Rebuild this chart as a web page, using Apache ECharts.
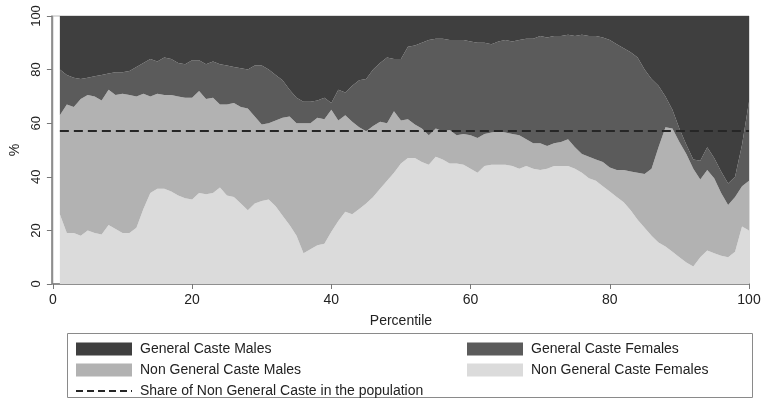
<!DOCTYPE html>
<html>
<head>
<meta charset="utf-8">
<script src="https://cdn.jsdelivr.net/npm/echarts@6/dist/echarts.min.js"></script>
<style>
  html, body { margin: 0; padding: 0; background: #fff; }
  #chart { width: 764px; height: 404px; }
</style>
</head>
<body>
<div id="chart"></div>
<script>
// Composition of each percentile group (shares in %, percentiles 1..100)
const percentiles = Array.from({ length: 100 }, (_, i) => i + 1);

const ngcFemales = [
  26, 19, 19, 18, 20, 19, 18.5, 22, 20.5, 19,
  19, 21, 28, 34, 35.5, 35.5, 34.5, 33, 32, 31.5,
  34, 33.5, 34, 36, 33, 32.5, 30, 27.5, 30, 31,
  31.5, 29, 25.5, 22, 18, 11.5, 13, 14.5, 15, 19.5,
  23.5, 27, 26, 28, 30, 32.5, 35.5, 38.5, 41.5, 45,
  47, 47, 45.5, 44.5, 47.5, 46.5, 45, 45, 44.5, 43,
  41.5, 44, 44.5, 44.5, 44.5, 44, 43, 44, 43, 42.5,
  43, 44, 44, 44, 43, 41.5, 39.5, 38.5, 36.5, 34.5,
  32.5, 30.5, 27.5, 24, 21, 18, 15.5, 14, 12, 10,
  8, 6.5, 10, 12.5, 11.5, 10.5, 10, 12, 21.5, 20
];

const ngcMales = [
  37, 48, 47, 51, 50.5, 51, 50, 50.5, 50, 52,
  51.5, 49, 43, 36, 35.5, 35, 36, 37, 37.5, 38,
  38, 35.5, 35.5, 31, 34, 35, 36, 38, 32.5, 28.5,
  28.5, 32, 36.5, 40.5, 42, 48.5, 47, 47.5, 46.5, 45.5,
  37.5, 36, 34.5, 30.5, 27, 26.5, 25, 21.5, 23, 16,
  14.5, 12.5, 12.5, 11, 10.5, 10.5, 12.5, 10.5, 11.5, 12.5,
  13, 12, 12, 12.5, 12, 12, 12.5, 10, 9.5, 10,
  8.5, 8.5, 9, 10, 8, 7, 8, 8, 9, 9,
  10, 12, 14.5, 17.5, 20, 25, 35.5, 44.5, 46, 43,
  40.5, 36.5, 29, 30, 28, 23.5, 19.5, 20.5, 15, 18.5
];

const gcFemales = [
  17, 11, 11, 7.5, 6.5, 7.5, 9.5, 6, 8.5, 8,
  9, 11, 11.5, 14, 12, 14, 13.5, 12.5, 12.5, 14,
  11.5, 13, 13.5, 15, 14.5, 13.5, 14.5, 14.5, 19, 22,
  20, 17, 14, 10, 9.5, 8, 8, 6.5, 8, 2.5,
  11.5, 8.5, 13.5, 17.5, 19.5, 21, 22, 24.5, 19.5, 23,
  27, 29.5, 32, 35.5, 33.5, 34.5, 33.5, 35.5, 35, 35,
  35.5, 34, 33, 33.5, 34.5, 34.5, 35.5, 37.5, 39, 40,
  40.5, 40, 39.5, 39, 41.5, 44.5, 45, 46, 46.5, 47.5,
  47, 45.5, 44.5, 43, 39, 33.5, 23, 11.5, 7, 5,
  3.5, 3.5, 7, 8.5, 7.5, 8, 8, 7.5, 15.5, 29.5
];

const gcMales = [
  20, 22, 23, 23.5, 23, 22.5, 22, 21.5, 21, 21,
  20.5, 19, 17.5, 16, 17, 15.5, 16, 17.5, 18, 16.5,
  16.5, 18, 17, 18, 18.5, 19, 19.5, 20, 18.5, 18.5,
  20, 22, 24, 27.5, 30.5, 32, 32, 31.5, 30.5, 32.5,
  27.5, 28.5, 26, 24, 23.5, 20, 17.5, 15.5, 16, 16,
  11.5, 11, 10, 9, 8.5, 8.5, 9, 9, 9, 9.5,
  10, 10, 10.5, 9.5, 9, 9.5, 9, 8.5, 8.5, 7.5,
  8, 7.5, 7.5, 7, 7.5, 7, 7.5, 7.5, 8, 9,
  10.5, 12, 13.5, 15.5, 20, 23.5, 26, 30, 35, 42,
  48, 53.5, 54, 49, 53, 58, 62.5, 60, 48, 32
];

// Population share of non general castes (reference line)
const nonGeneralShare = 57;

const yTicks = [0, 20, 40, 60, 80, 100];
const xTickStep = 20;

const names = {
  gcM: 'General Caste Males',
  gcF: 'General Caste Females',
  ngM: 'Non General Caste Males',
  ngF: 'Non General Caste Females',
  share: 'Share of Non General Caste in the population'
};

const colors = {
  gcM: '#3f3f3f',
  gcF: '#5b5b5b',
  ngM: '#b2b2b2',
  ngF: '#dbdbdb'
};

const FONT = '"Liberation Sans", Arial, sans-serif';

// Category axis runs 0..100; percentile 0 has no observation
const categories = [0].concat(percentiles).map(String);
const withOrigin = arr => [null].concat(arr);
const isMajor = idx => idx % xTickStep === 0;

function areaSeries(name, values, color) {
  return {
    name: name,
    type: 'line',
    stack: 'share',
    data: withOrigin(values),
    symbol: 'none',
    lineStyle: { width: 0, color: color },
    itemStyle: { color: color },
    areaStyle: { color: color, opacity: 1 },
    emphasis: { disabled: true },
    silent: true,
    z: 2
  };
}

const chart = echarts.init(document.getElementById('chart'), null, { renderer: 'canvas' });

const legendText = { fontFamily: FONT, fontSize: 14, color: '#222', padding: [0, 0, 0, 3] };

chart.setOption({
  animation: false,
  backgroundColor: '#fff',
  textStyle: { fontFamily: FONT },
  grid: {
    left: 50, right: 15, top: 16, bottom: 120,
    show: true, borderColor: '#b8b8b8', borderWidth: 1, backgroundColor: 'transparent'
  },
  xAxis: {
    type: 'category',
    data: categories,
    boundaryGap: false,
    offset: 3,
    name: 'Percentile',
    nameLocation: 'middle',
    nameGap: 27,
    nameTextStyle: { fontFamily: FONT, fontSize: 14, color: '#222' },
    axisLine: { show: true, lineStyle: { color: '#777', width: 1.5 } },
    axisTick: { show: true, length: 5, interval: isMajor, lineStyle: { color: '#777', width: 1 } },
    axisLabel: { fontFamily: FONT, fontSize: 14, color: '#222', margin: 6, interval: isMajor },
    splitLine: { show: false }
  },
  yAxis: {
    type: 'value',
    min: yTicks[0], max: yTicks[yTicks.length - 1], interval: 20,
    offset: 1,
    name: '%',
    nameLocation: 'middle',
    nameRotate: 90,
    nameGap: 28,
    nameTextStyle: { fontFamily: FONT, fontSize: 14, color: '#222' },
    axisLine: { show: true, lineStyle: { color: '#777', width: 1.5 } },
    axisTick: { show: true, length: 5, lineStyle: { color: '#777', width: 1 } },
    axisLabel: { fontFamily: FONT, fontSize: 13, color: '#222', rotate: 90, margin: 9 },
    splitLine: { show: false }
  },
  legend: [
    {
      orient: 'vertical',
      left: 70, top: 337,
      itemWidth: 56, itemHeight: 13, itemGap: 7,
      textStyle: legendText,
      data: [
        { name: names.gcM, icon: 'rect' },
        { name: names.ngM, icon: 'rect' },
        { name: names.share, itemStyle: { opacity: 0 } }
      ],
      selectedMode: false
    },
    {
      orient: 'vertical',
      left: 462, top: 337,
      itemWidth: 56, itemHeight: 13, itemGap: 7,
      textStyle: legendText,
      data: [
        { name: names.gcF, icon: 'rect' },
        { name: names.ngF, icon: 'rect' }
      ],
      selectedMode: false
    }
  ],
  graphic: [
    {
      type: 'rect',
      shape: { x: 67.5, y: 333.5, width: 685, height: 64 },
      style: { fill: 'none', stroke: '#8a8a8a', lineWidth: 1 },
      silent: true
    }
  ],
  series: [
    areaSeries(names.ngF, ngcFemales, colors.ngF),
    areaSeries(names.ngM, ngcMales, colors.ngM),
    areaSeries(names.gcF, gcFemales, colors.gcF),
    areaSeries(names.gcM, gcMales, colors.gcM),
    {
      name: names.share,
      type: 'line',
      data: [],
      symbol: 'none',
      lineStyle: { color: '#262626', width: 2, type: [7, 4] },
      itemStyle: { color: '#262626' },
      silent: true,
      z: 5,
      markLine: {
        silent: true,
        symbol: 'none',
        label: { show: false },
        lineStyle: { color: '#262626', width: 2, type: [9, 5] },
        emphasis: { disabled: true },
        data: [[
          { coord: [String(percentiles[0]), nonGeneralShare] },
          { coord: [String(percentiles[percentiles.length - 1]), nonGeneralShare] }
        ]]
      }
    }
  ]
});
</script>
</body>
</html>
